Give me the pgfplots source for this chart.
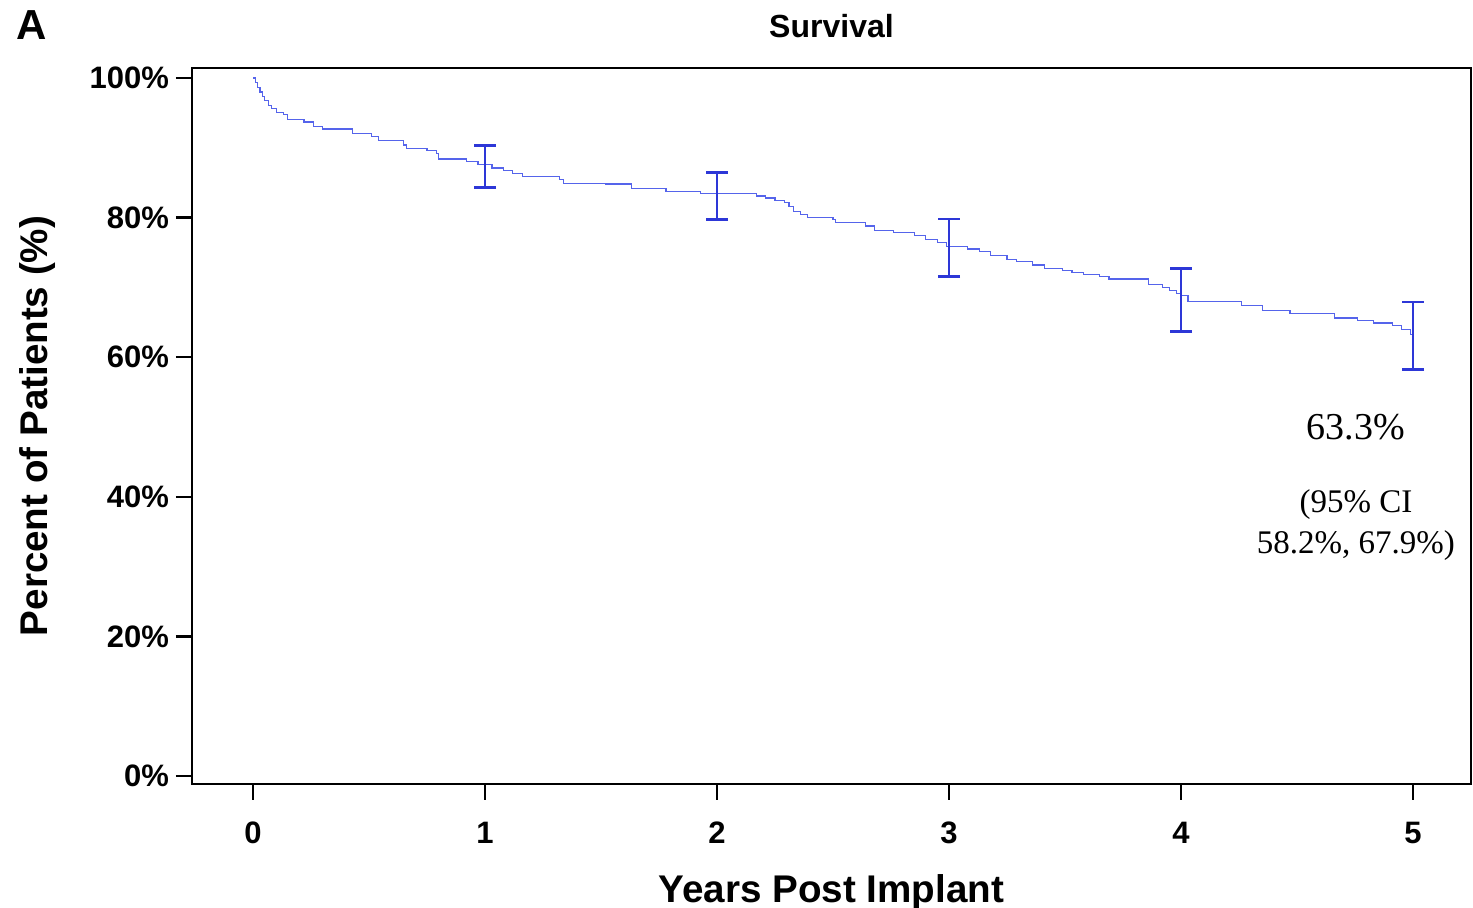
\documentclass[border=0pt]{standalone}
\usepackage{fontspec}
\setmainfont{Liberation Sans}
\newfontfamily\seriffont{Liberation Serif}
\usepackage{pgfplots}
\pgfplotsset{compat=1.18}
\usetikzlibrary{calc}
\definecolor{km}{RGB}{85,100,235}
\definecolor{ci}{RGB}{45,55,215}

\begin{document}
\begin{tikzpicture}
  \begin{axis}[name=ax, scale only axis, width=639.5pt, height=358pt,
      xmin=-0.263, xmax=5.25, ymin=-1.15, ymax=101.43,
      xtick={0,...,5}, ytick={0,20,...,100},
      tick pos=left, tick align=outside, major tick length=8pt,
      axis line style={line width=1.2pt},
      major tick style={black, line width=1.2pt},
      /pgf/number format/assume math mode=true,
      ticklabel style={font=\bfseries\fontsize{15.5}{18}\selectfont},
      xticklabel style={yshift=-7.5pt},
      yticklabel={\pgfmathprintnumber{\tick}\%},
      title={Survival},
      title style={font=\bfseries\fontsize{16}{19}\selectfont, at={(0.5,1)}, anchor=base, yshift=9pt},
      xlabel={Years Post Implant},
      xlabel style={font=\bfseries\fontsize{19.3}{22}\selectfont, at={(axis description cs:0.5,0)}, anchor=base, yshift=-59.5pt},
      ylabel={Percent of Patients (\%)},
      ylabel style={font=\bfseries\fontsize{19.3}{22}\selectfont, at={(axis description cs:0,0.5)}, anchor=center, yshift=77pt},
    ]
    % Kaplan-Meier estimate
    \addplot[km, line width=0.6pt, const plot, mark=none] coordinates {
      (0,100) (0.01,99.3) (0.02,98.6) (0.03,98.0) (0.04,97.4) (0.05,96.8)
      (0.066,96.0) (0.08,95.6) (0.10,95.1) (0.13,94.8) (0.15,94.0) (0.22,93.7)
      (0.26,93.0) (0.30,92.7) (0.43,92.1) (0.51,91.6) (0.54,91.0) (0.65,90.4)
      (0.66,89.9) (0.75,89.6) (0.79,89.2) (0.80,88.4) (0.92,88.0) (0.97,87.6)
      (1.03,87.1) (1.08,86.7) (1.12,86.3) (1.16,85.9) (1.32,85.4) (1.34,84.9)
      (1.52,84.8) (1.63,84.2) (1.78,83.7) (1.93,83.5) (2.17,83.1) (2.21,82.8)
      (2.25,82.5) (2.29,82.2) (2.31,81.6) (2.33,80.9) (2.36,80.4) (2.39,80.0)
      (2.50,79.7) (2.51,79.3) (2.64,78.8) (2.68,78.2) (2.76,77.9) (2.85,77.4)
      (2.90,76.9) (2.95,76.4) (2.99,75.8) (3.08,75.5) (3.13,75.1) (3.18,74.6)
      (3.25,74.0) (3.29,73.7) (3.36,73.2) (3.41,72.7) (3.49,72.4) (3.53,72.1)
      (3.58,71.8) (3.65,71.5) (3.69,71.2) (3.86,70.4) (3.92,70.0) (3.95,69.5)
      (3.98,69.1) (4.00,68.8) (4.03,68.0) (4.26,67.4) (4.35,66.7) (4.47,66.3)
      (4.66,65.6) (4.76,65.3) (4.83,64.9) (4.91,64.5) (4.95,64.0) (4.99,63.3)
      (5.0,63.3)
    };
    % 95% confidence intervals
    \addplot[draw=none, mark=none, error bars/.cd, y dir=both, y explicit,
        error mark=|,
        error bar style={ci, line width=1.4pt},
        error mark options={ci, line width=1.4pt, mark size=5.5pt}]
      coordinates {
        (1,87.3) +- (0,3.0)
        (2,83.1) +- (0,3.4)
        (3,75.65) +- (0,4.15)
        (4,68.2) +- (0,4.5)
        (5,63.05) +- (0,4.85)
      };
    \node[font=\seriffont\fontsize{19}{22}\selectfont] at (axis cs:4.754,50) {63.3\%};
    \node[font=\seriffont\fontsize{16.5}{20.5}\selectfont, align=center] at (axis cs:4.754,35.9) {(95\% CI\\58.2\%, 67.9\%)};
  \end{axis}
  \node[font=\bfseries\fontsize{21}{24}\selectfont] at ($(ax.north west)+(-80pt,21.5pt)$) {A};
  \pgfresetboundingbox
  \path[use as bounding box] ($(ax.south west)+(-96pt,-62pt)$) rectangle ($(ax.north east)+(1pt,34pt)$);
\end{tikzpicture}
\end{document}
